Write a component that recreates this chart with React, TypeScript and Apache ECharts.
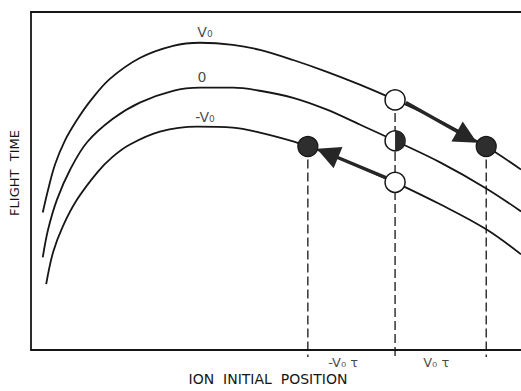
import React, { useEffect, useRef } from "react";
import * as echarts from "echarts";

// Curve data (x: ion initial position, y: flight time), arbitrary units 0-100
const vPlusX = [2.4, 3.5, 4.9, 6.9, 9.4, 12.0, 16.1, 22.2, 29.0, 34.5, 41.2, 46.7, 53.5, 60.4, 67.1, 74.3, 84.1, 92.9, 100];
const vPlusY = [40.7, 47.5, 54.9, 61.9, 68.1, 73.5, 80.2, 86.4, 90.0, 90.9, 90.3, 88.8, 85.8, 82.3, 78.5, 74.0, 67.3, 60.2, 53.4];

const vZeroX = [2.4, 3.5, 5.3, 8.0, 11.4, 16.7, 22.2, 29.0, 34.5, 41.2, 46.7, 53.5, 60.4, 67.1, 74.3, 83.5, 92.9, 100];
const vZeroY = [27.4, 35.7, 44.5, 53.4, 61.4, 68.4, 73.2, 76.7, 77.6, 77.6, 76.7, 74.6, 71.1, 66.7, 61.9, 55.5, 47.8, 41.0];

const vMinusX = [3.1, 4.5, 6.5, 9.4, 13.5, 16.7, 20.2, 26.3, 33.9, 41.2, 46.7, 53.5, 56.5, 63.7, 70.6, 74.3, 83.5, 92.9, 100];
const vMinusY = [19.5, 28.9, 36.6, 44.5, 52.5, 57.2, 60.8, 64.6, 66.1, 65.8, 64.3, 61.7, 60.2, 56.3, 51.9, 49.6, 43.1, 35.7, 28.3];

const curveLabels = ["V₀", "0", "-V₀"];
const curveLabelX = [35.5, 34.9, 35.5];
const curveLabelY = [94.1, 80.8, 69.0];

// Ion markers
const openX = [74.3, 74.3];
const openY = [74.0, 49.6];
const halfX = [74.3];
const halfY = [61.9];
const filledX = [56.5, 92.9];
const filledY = [60.2, 60.2];

// Vertical dashed drop lines
const dropX = [56.5, 74.3, 92.9];
const dropTopY = [60.2, 74.0, 60.2];
const dropBottomY = -2.1;

// Arrows: start -> end (arrowhead centre)
const arrowFromX = [76.5, 72.4];
const arrowFromY = [73.2, 51.0];
const arrowToX = [89.0, 60.5];
const arrowToY = [63.0, 58.2];

// Interval labels under the axis
const intervalLabels = ["-V₀ τ", "V₀ τ"];
const intervalX = [63.7, 82.7];
const intervalY = [-3.7, -3.7];

const INK = "#161616";
const FONT = "DejaVu Sans";

const zip = (xs: number[], ys: number[]) => xs.map((x, i) => [x, ys[i]]);

export default function App() {
  const ref = useRef<HTMLDivElement>(null);

  useEffect(() => {
    if (!ref.current) return;
    const chart = echarts.init(ref.current, undefined, { renderer: "svg" });

    const curveSeries = [
      [vPlusX, vPlusY],
      [vZeroX, vZeroY],
      [vMinusX, vMinusY],
    ].map(([xs, ys]) => ({
      type: "line",
      data: zip(xs, ys),
      smooth: 0.35,
      showSymbol: false,
      symbol: "none",
      clip: true,
      lineStyle: { color: INK, width: 1.8 },
      z: 2,
    }));

    const dropSeries = dropX.map((x, i) => ({
      type: "line",
      data: [
        [x, dropTopY[i]],
        [x, dropBottomY],
      ],
      symbol: "none",
      clip: false,
      lineStyle: { color: INK, width: 1.3, type: [9, 4] },
      z: 1,
    }));

    const arrowSeries = {
      type: "line",
      data: [],
      symbol: "none",
      markLine: {
        silent: true,
        animation: false,
        symbol: ["none", "triangle"],
        symbolSize: 23,
        label: { show: false },
        lineStyle: { color: "#262626", width: 3.4, type: "solid", opacity: 1 },
        emphasis: { disabled: true },
        data: arrowFromX.map((x, i) => [
          { coord: [x, arrowFromY[i]] },
          { coord: [arrowToX[i], arrowToY[i]] },
        ]),
      },
      z: 3,
    };

    const curveTextStyle = {
      show: true,
      position: "inside",
      formatter: (p: any) => p.name,
      fontFamily: FONT,
      fontSize: 14,
      color: INK,
    };

    const intervalTextStyle = {
      ...curveTextStyle,
      fontSize: 13,
      lineHeight: 14,
    };

    const option: any = {
      animation: false,
      backgroundColor: "#ffffff",
      grid: { left: 31, right: 0, top: 12, bottom: 40, containLabel: false },
      xAxis: [
        {
          type: "value",
          min: 0,
          max: 100,
          position: "bottom",
          axisLine: { show: true, onZero: false, lineStyle: { color: INK, width: 1.8 } },
          axisTick: { show: false },
          axisLabel: { show: false },
          splitLine: { show: false },
          name: "ION  INITIAL  POSITION",
          nameLocation: "middle",
          nameGap: 22,
          nameTextStyle: {
            fontFamily: FONT,
            fontSize: 14,
            lineHeight: 14,
            color: INK,
            padding: [0, 16, 0, 0],
          },
        },
        {
          type: "value",
          min: 0,
          max: 100,
          position: "top",
          axisLine: { show: true, onZero: false, lineStyle: { color: INK, width: 1.8 } },
          axisTick: { show: false },
          axisLabel: { show: false },
          splitLine: { show: false },
        },
      ],
      yAxis: {
        type: "value",
        min: 0,
        max: 100,
        axisLine: { show: true, onZero: false, lineStyle: { color: INK, width: 1.8 } },
        axisTick: { show: false },
        axisLabel: { show: false },
        splitLine: { show: false },
        name: "FLIGHT  TIME",
        nameLocation: "middle",
        nameGap: 10,
        nameTextStyle: { fontFamily: FONT, fontSize: 13, color: INK, padding: [0, 0, 0, 16] },
      },
      series: [
        ...curveSeries,
        ...dropSeries,
        arrowSeries,
        {
          type: "scatter",
          data: zip(openX, openY),
          symbol: "circle",
          symbolSize: 20,
          itemStyle: { color: "#ffffff", borderColor: INK, borderWidth: 1.5, opacity: 1 },
          z: 5,
        },
        {
          type: "scatter",
          data: zip(halfX, halfY),
          symbol: "circle",
          symbolSize: 20,
          itemStyle: { color: "#ffffff", borderColor: INK, borderWidth: 1.5, opacity: 1 },
          z: 5,
        },
        {
          type: "scatter",
          data: zip(halfX, halfY),
          symbol: "path://M0,0 A10,10 0 0,1 0,20 Z",
          symbolSize: [10, 20],
          symbolOffset: [5, 0],
          itemStyle: { color: "#2a2a2a", opacity: 1 },
          z: 6,
        },
        {
          type: "scatter",
          data: zip(filledX, filledY),
          symbol: "circle",
          symbolSize: 20,
          itemStyle: { color: "#2e2e2e", borderColor: INK, borderWidth: 1.2, opacity: 1 },
          z: 5,
        },
        {
          type: "scatter",
          data: curveLabels.map((t, i) => ({ value: [curveLabelX[i], curveLabelY[i]], name: t })),
          symbolSize: 0,
          clip: false,
          label: curveTextStyle,
          z: 7,
        },
        {
          type: "scatter",
          data: intervalLabels.map((t, i) => ({ value: [intervalX[i], intervalY[i]], name: t })),
          symbolSize: 0,
          clip: false,
          label: intervalTextStyle,
          z: 7,
        },
      ],
    };

    chart.setOption(option);
    return () => chart.dispose();
  }, []);

  return (
    <div
      ref={ref}
      style={{ position: "fixed", left: 0, top: 0, width: 521, height: 391, background: "#fff" }}
    />
  );
}
